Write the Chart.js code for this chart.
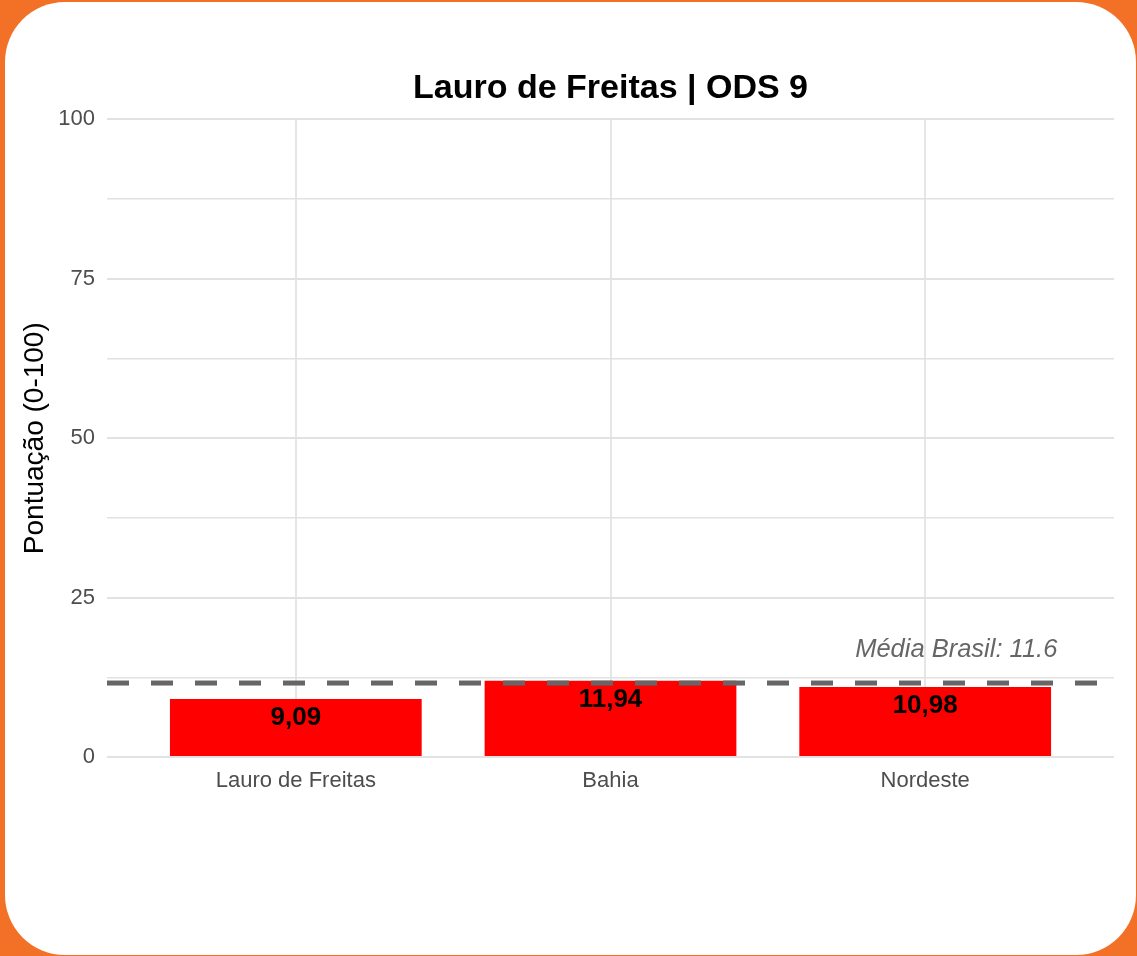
<!DOCTYPE html>
<html lang="pt-BR">
<head>
<meta charset="utf-8">
<title>Lauro de Freitas | ODS 9</title>
<script src="https://cdn.jsdelivr.net/npm/chart.js@4.4.1/dist/chart.umd.min.js"></script>
<style>
  html, body { margin: 0; padding: 0; }
  body { width: 1137px; height: 956px; background: #F37027; position: relative; overflow: hidden; }
  .card { position: absolute; left: 5px; top: 2px; width: 1131px; height: 953px; background: #fff; border-radius: 60px; }
  #chart-wrap { position: absolute; left: 0; top: 0; width: 1137px; height: 956px; }
</style>
</head>
<body>
<div class="card"></div>
<div id="chart-wrap"><canvas id="chart"></canvas></div>
<script>
// dados
const categories = ['Lauro de Freitas', 'Bahia', 'Nordeste'];
const scores = [9.09, 11.94, 10.98];
const brasilAvg = 11.6;
const yTicks = [0, 25, 50, 75, 100];

const FONT = "'Liberation Sans', Arial, sans-serif";

// linha da média + rótulos das barras
const overlayPlugin = {
  id: 'overlay',
  afterDatasetsDraw(chart) {
    const { ctx, chartArea, scales } = chart;
    const x = scales.x, y = scales.y;

    // rótulos dentro das barras
    ctx.save();
    ctx.fillStyle = '#000';
    ctx.font = `bold 26px ${FONT}`;
    ctx.textAlign = 'center';
    ctx.textBaseline = 'middle';
    scores.forEach((v, i) => {
      const px = x.getPixelForValue(i + 1);
      const py = y.getPixelForValue(v) + 18.5;
      ctx.fillText(v.toFixed(2).replace('.', ','), px, py);
    });
    ctx.restore();

    // média Brasil
    const ly = y.getPixelForValue(brasilAvg);
    ctx.save();
    ctx.strokeStyle = '#666666';
    ctx.lineWidth = 5;
    ctx.setLineDash([22, 22]);
    ctx.beginPath();
    ctx.moveTo(chartArea.left, ly);
    ctx.lineTo(chartArea.right - 10, ly);
    ctx.stroke();
    ctx.restore();

    ctx.save();
    ctx.fillStyle = '#666666';
    ctx.font = `italic 25.5px ${FONT}`;
    ctx.textAlign = 'right';
    ctx.textBaseline = 'middle';
    ctx.fillText(`Média Brasil: ${brasilAvg}`, x.getPixelForValue(3.42), y.getPixelForValue(16.8));
    ctx.restore();
  }
};

new Chart(document.getElementById('chart'), {
  type: 'bar',
  data: {
    datasets: [{
      data: scores.map((v, i) => ({ x: i + 1, y: v })),
      backgroundColor: '#FF0000',
      borderWidth: 0,
      barPercentage: 0.8,
      categoryPercentage: 1,
    }],
  },
  options: {
    responsive: true,
    maintainAspectRatio: false,
    animation: false,
    events: [],
    layout: { padding: { left: 0, right: 23, top: 0, bottom: 0 } },
    plugins: {
      legend: { display: false },
      tooltip: { enabled: false },
      title: {
        display: true,
        text: 'Lauro de Freitas | ODS 9',
        fullSize: false,
        color: '#000',
        font: { family: FONT, size: 34, weight: 'bold', lineHeight: 1.2 },
        padding: { top: 68, bottom: 10.6 },
      },
    },
    scales: {
      x: {
        type: 'linear',
        min: 0.4,
        max: 3.6,
        offset: false,
        afterBuildTicks: s => { s.ticks = categories.map((c, i) => ({ value: i + 1 })); },
        afterFit: s => { s.height = 199; },
        border: { display: false },
        grid: { color: '#e6e6e6', lineWidth: 2, drawTicks: false, offset: false },
        ticks: {
          padding: 11,
          color: '#4d4d4d',
          font: { family: FONT, size: 22 },
          callback: v => categories[v - 1] || '',
        },
      },
      y: {
        min: 0,
        max: 100,
        afterBuildTicks: s => {
          const t = [];
          for (let v = 0; v <= 100; v += 12.5) t.push({ value: v });
          s.ticks = t;
        },
        afterFit: s => { s.width = 107; },
        border: { display: false },
        grid: {
          color: '#e2e2e2',
          lineWidth: ctx => (yTicks.includes(ctx.tick && ctx.tick.value) ? 2 : 1.5),
          drawTicks: false,
        },
        ticks: {
          padding: 12,
          color: '#4d4d4d',
          font: { family: FONT, size: 22 },
          callback: v => (yTicks.includes(v) ? String(v) : ''),
        },
        title: {
          display: true,
          text: 'Pontuação (0-100)',
          color: '#000',
          font: { family: FONT, size: 28 },
          padding: { top: 18, bottom: 0 },
        },
      },
    },
  },
  plugins: [overlayPlugin],
});
</script>
</body>
</html>
